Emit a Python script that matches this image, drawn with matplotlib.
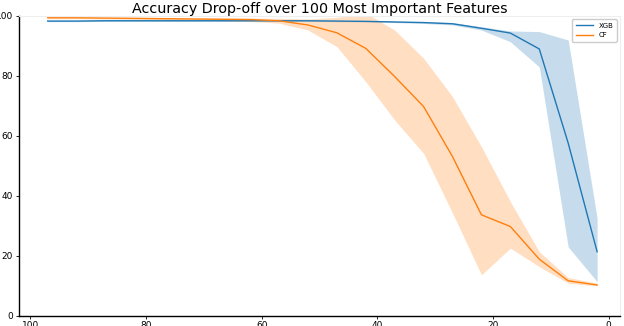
import numpy as np
import matplotlib
matplotlib.use("Agg")
import matplotlib.pyplot as plt

# number of features kept
n_features = [97, 92, 87, 82, 77, 72, 67, 62, 57, 52, 47, 42, 37, 32, 27, 22, 17, 12, 7, 2]

# XGB accuracy mean / band
xgb_mean = [98.3, 98.3, 98.4, 98.4, 98.4, 98.4, 98.4, 98.4, 98.4, 98.4, 98.3, 98.2, 98.0, 97.8, 97.4, 95.9, 94.3, 89.0, 57.6, 21.4]
xgb_low = [98.1, 98.1, 98.2, 98.2, 98.2, 98.2, 98.2, 98.2, 98.2, 98.2, 98.1, 98.0, 97.8, 97.5, 97.0, 95.3, 91.4, 83.0, 23.0, 11.4]
xgb_high = [98.5, 98.5, 98.6, 98.6, 98.6, 98.6, 98.6, 98.6, 98.6, 98.6, 98.5, 98.4, 98.2, 98.1, 97.8, 96.4, 95.0, 94.8, 92.0, 32.6]

# CF accuracy mean / band
cf_mean = [99.4, 99.4, 99.3, 99.2, 99.1, 99.0, 98.9, 98.8, 98.4, 97.0, 94.4, 89.2, 79.8, 69.8, 53.1, 33.7, 29.8, 18.9, 11.7, 10.3]
cf_low = [99.1, 99.1, 99.0, 98.9, 98.8, 98.6, 98.4, 98.2, 97.6, 95.3, 89.8, 78.1, 65.3, 54.2, 34.3, 13.7, 22.6, 16.4, 10.9, 10.0]
cf_high = [99.7, 99.7, 99.6, 99.5, 99.4, 99.3, 99.3, 99.3, 99.2, 99.0, 99.5, 101.0, 95.3, 85.9, 73.1, 56.4, 38.1, 21.4, 12.8, 10.9]

fig = plt.figure(figsize=(6.24, 3.26), dpi=100)
ax = fig.add_axes([0.030, 0.031, 0.964, 0.920])

ax.plot(n_features, xgb_mean, color='#1f77b4', linewidth=1, label='XGB')
ax.fill_between(n_features, xgb_low, xgb_high, color='#1f77b4', alpha=0.25, linewidth=0)
ax.plot(n_features, cf_mean, color='#ff7f0e', linewidth=1, label='CF')
ax.fill_between(n_features, cf_low, cf_high, color='#ff7f0e', alpha=0.25, linewidth=0)

ax.set_xlim(102, -2)
ax.set_ylim(0, 100)
ax.set_xticks([100, 80, 60, 40, 20, 0])
ax.set_yticks([0, 20, 40, 60, 80, 100])
ax.tick_params(labelsize=6.5, length=2, width=0.6, pad=2)
for s in ['top', 'right']:
    ax.spines[s].set_color('#eeeeee')
for s in ['left', 'bottom']:
    ax.spines[s].set_linewidth(1.0)

ax.set_title('Accuracy Drop-off over 100 Most Important Features', fontsize=10.3, pad=2)
ax.legend(loc='upper right', fontsize=5, handlelength=2.5, borderpad=0.5, framealpha=1)

fig.savefig('out.png', dpi=100)
